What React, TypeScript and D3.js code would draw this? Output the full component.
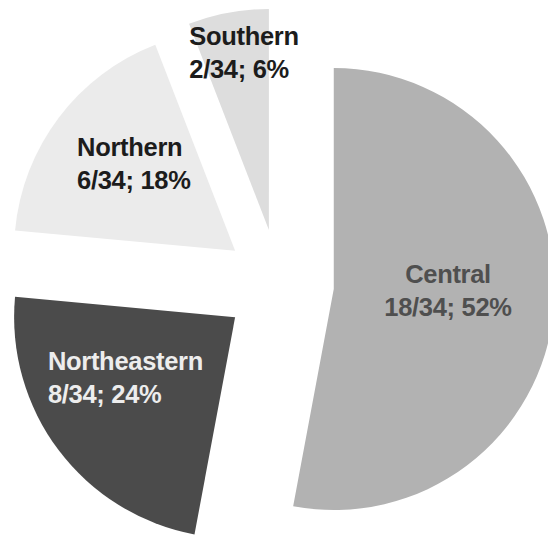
import React, { useEffect, useRef } from "react";
import * as d3 from "d3";

const categories = ["Central", "Northeastern", "Northern", "Southern"];
const counts = [18, 8, 6, 2];
const totalCount = 34;
const percentLabels = ["52%", "24%", "18%", "6%"];
const sliceColors = ["#b2b2b2", "#4b4b4b", "#ebebeb", "#dddddd"];
const textColors = ["#4f4f4f", "#ededed", "#1c1c1c", "#1c1c1c"];
const labelRadiusFrac = [0.517, 0.567, 0.606, 0.81];
const labelAngleShift = [-4.8, 8.1, 3.8, 2.6];
const labelAlign = ["middle", "start", "start", "start"];

const W = 548;
const H = 536;
const CX = 279;
const CY = 284;
const R = 221;
const EXPLODE = 55;
const FONT_SIZE = 25.5;
const LINE_H = 33;

export default function App() {
  const ref = useRef<SVGSVGElement | null>(null);

  useEffect(() => {
    const svg = d3.select(ref.current);
    svg.selectAll("*").remove();

    const pie = d3
      .pie<number>()
      .sort(null)
      .value((d) => d)
      .startAngle(0)
      .endAngle(2 * Math.PI);
    const arcs = pie(counts);
    const arc = d3.arc<d3.PieArcDatum<number>>().innerRadius(0).outerRadius(R);

    const apex = arcs.map((a) => {
      const mid = (a.startAngle + a.endAngle) / 2;
      return [CX + Math.sin(mid) * EXPLODE, CY - Math.cos(mid) * EXPLODE];
    });

    svg
      .append("g")
      .selectAll("path")
      .data(arcs)
      .enter()
      .append("path")
      .attr("d", (d) => arc(d) as string)
      .attr("fill", (_, i) => sliceColors[i])
      .attr("transform", (_, i) => `translate(${apex[i][0]},${apex[i][1]})`);

    const labels = svg.append("g");
    arcs.forEach((a, i) => {
      const mid = (a.startAngle + a.endAngle) / 2 + (labelAngleShift[i] * Math.PI) / 180;
      const lr = R * labelRadiusFrac[i];
      const ax = apex[i][0] + Math.sin(mid) * lr;
      const ay = apex[i][1] - Math.cos(mid) * lr;
      const g = labels.append("g");
      const t = g
        .append("text")
        .attr("font-family", "'Liberation Sans', Arial, sans-serif")
        .attr("font-weight", "bold")
        .attr("font-size", FONT_SIZE)
        .attr("letter-spacing", -0.3)
        .attr("fill", textColors[i])
        .attr("text-anchor", labelAlign[i]);
      t.append("tspan").attr("x", 0).attr("y", 0).text(categories[i]);
      t.append("tspan")
        .attr("x", 0)
        .attr("y", LINE_H)
        .text(`${counts[i]}/${totalCount}; ${percentLabels[i]}`);
      const bb = (t.node() as SVGTextElement).getBBox();
      const bx = bb.x + bb.width / 2;
      const by = bb.y + bb.height / 2;
      g.attr("transform", `translate(${ax - bx},${ay - by})`);
    });
  }, []);

  return (
    <svg
      ref={ref}
      width={W}
      height={H}
      style={{ position: "absolute", left: 0, top: 0, background: "#ffffff", overflow: "hidden" }}
    />
  );
}
